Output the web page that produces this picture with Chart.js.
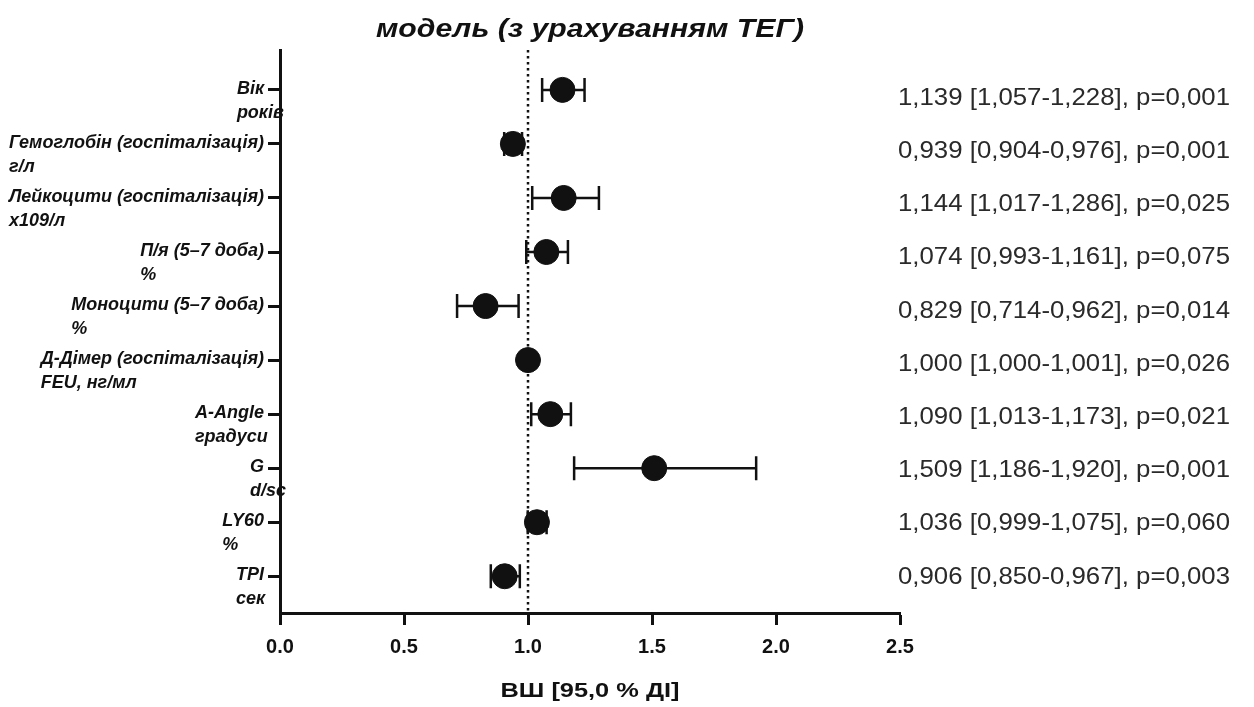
<!DOCTYPE html>
<html lang="uk">
<head>
<meta charset="UTF-8">
<title>модель (з урахуванням ТЕГ)</title>
<script src="https://cdn.jsdelivr.net/npm/chart.js@4/dist/chart.umd.min.js"></script>
<style>
  html, body { margin: 0; padding: 0; background: #fff; }
  #wrap { width: 1254px; height: 707px; position: relative; }
</style>
</head>
<body>
<div id="wrap"><canvas id="forest"></canvas></div>
<script>
// ── Data ─────────────────────────────────────────────────────────────────────
const labels = [
  ['Вік', 'років'],
  ['Гемоглобін (госпіталізація)', 'г/л'],
  ['Лейкоцити (госпіталізація)', 'x109/л'],
  ['П/я (5–7 доба)', '%'],
  ['Моноцити (5–7 доба)', '%'],
  ['Д-Дімер (госпіталізація)', 'FEU, нг/мл'],
  ['A-Angle', 'градуси'],
  ['G', 'd/sc'],
  ['LY60', '%'],
  ['TPI', 'сек'],
];
const oddsRatio = [1.139, 0.939, 1.144, 1.074, 0.829, 1.000, 1.090, 1.509, 1.036, 0.906];
const ciLow     = [1.057, 0.904, 1.017, 0.993, 0.714, 1.000, 1.013, 1.186, 0.999, 0.850];
const ciHigh    = [1.228, 0.976, 1.286, 1.161, 0.962, 1.001, 1.173, 1.920, 1.075, 0.967];
const pValues   = [0.001, 0.001, 0.025, 0.075, 0.014, 0.026, 0.021, 0.001, 0.060, 0.003];
const xTicks    = [0, 0.5, 1.0, 1.5, 2.0, 2.5];
const refValue  = 1.0;
const titleText  = 'модель (з урахуванням ТЕГ)';
const xTitleText = 'ВШ [95,0 % ДІ]';

const INK = '#111';
const SANS = "'Liberation Sans', Arial, sans-serif";

const fmt = (v) => v.toFixed(3).replace('.', ',');

// draw text squeezed / stretched to a given width
function fitText(ctx, txt, x, y, width, align) {
  const s = width / ctx.measureText(txt).width;
  ctx.save();
  ctx.translate(x, y);
  ctx.scale(s, 1);
  ctx.textAlign = align;
  ctx.fillText(txt, 0, 0);
  ctx.restore();
  return s;
}

// ── Custom drawing: reference line, error bars, labels, notes ───────────────
const forestPlugin = {
  id: 'forest',
  beforeDatasetsDraw(chart) {
    const { ctx, chartArea, scales: { x, y } } = chart;
    ctx.save();
    // dotted reference line at OR = 1
    const xr = x.getPixelForValue(refValue);
    ctx.strokeStyle = INK;
    ctx.lineWidth = 2.5;
    ctx.setLineDash([2.5, 3.5]);
    ctx.beginPath();
    ctx.moveTo(xr, chartArea.top);
    ctx.lineTo(xr, chartArea.bottom);
    ctx.stroke();
    ctx.setLineDash([]);
    // error bars with caps
    ctx.lineWidth = 2.5;
    oddsRatio.forEach((_, i) => {
      const yp = y.getPixelForValue(i + 1);
      const x0 = x.getPixelForValue(ciLow[i]);
      const x1 = x.getPixelForValue(ciHigh[i]);
      ctx.beginPath();
      ctx.moveTo(x0, yp); ctx.lineTo(x1, yp);
      ctx.moveTo(x0, yp - 12); ctx.lineTo(x0, yp + 12);
      ctx.moveTo(x1, yp - 12); ctx.lineTo(x1, yp + 12);
      ctx.stroke();
    });
    ctx.restore();
  },
  afterDraw(chart) {
    const { ctx, chartArea, scales: { y } } = chart;
    const cx = (chartArea.left + chartArea.right) / 2;
    ctx.save();
    ctx.fillStyle = INK;
    ctx.textBaseline = 'middle';

    // chart title
    ctx.font = `italic bold 25px ${SANS}`;
    fitText(ctx, titleText, cx, 30, 428, 'center');

    // x-axis title
    ctx.font = `bold 21px ${SANS}`;
    fitText(ctx, xTitleText, cx, 691, 179, 'center');

    // category labels: lines left-aligned, first line ending before the tick
    ctx.font = `italic bold 18px ${SANS}`;
    ctx.textAlign = 'left';
    const tickStart = y.right - 12;
    labels.forEach((lines, i) => {
      const yp = y.getPixelForValue(i + 1);
      const left = tickStart - 4 - ctx.measureText(lines[0]).width;
      lines.forEach((line, k) => ctx.fillText(line, left, yp - 1 + k * 24));
    });

    // right-hand OR [CI], p column
    ctx.font = `24px ${SANS}`;
    ctx.fillStyle = '#2a2a2a';
    const notes = oddsRatio.map((or, i) =>
      `${fmt(or)} [${fmt(ciLow[i])}-${fmt(ciHigh[i])}], p=${fmt(pValues[i])}`);
    const s = 332 / ctx.measureText(notes[0]).width;
    notes.forEach((txt, i) => {
      const yp = y.getPixelForValue(1.15 + i * 0.985);
      ctx.save();
      ctx.translate(898, yp);
      ctx.scale(s, 1);
      ctx.textAlign = 'left';
      ctx.fillText(txt, 0, 0);
      ctx.restore();
    });
    ctx.restore();
  },
};

// ── Chart ────────────────────────────────────────────────────────────────────
new Chart(document.getElementById('forest'), {
  type: 'scatter',
  data: {
    datasets: [{
      data: oddsRatio.map((v, i) => ({ x: v, y: i + 1 })),
      backgroundColor: INK,
      borderColor: INK,
      pointRadius: 12.5,
      pointHoverRadius: 12.5,
    }],
  },
  options: {
    responsive: true,
    maintainAspectRatio: false,
    animation: false,
    events: [],
    layout: { padding: { left: 268, right: 354, top: 50, bottom: 38 } },
    plugins: {
      legend: { display: false },
      tooltip: { enabled: false },
      title: { display: false },
    },
    scales: {
      x: {
        type: 'linear',
        min: 0,
        max: 2.5,
        afterBuildTicks: (s) => { s.ticks = xTicks.map((v) => ({ value: v })); },
        border: { display: true, color: INK, width: 3 },
        grid: { display: true, drawOnChartArea: false, drawTicks: true, tickLength: 12, tickWidth: 3, tickColor: INK },
        ticks: {
          color: INK,
          padding: 10,
          font: { family: SANS, size: 20, weight: 'bold' },
          callback: (v) => Number(v).toFixed(1),
        },
      },
      y: {
        type: 'linear',
        reverse: true,
        min: 0.262,
        max: 10.68,
        afterBuildTicks: (s) => { s.ticks = labels.map((_, i) => ({ value: i + 1 })); },
        border: { display: true, color: INK, width: 3 },
        grid: { display: true, drawOnChartArea: false, drawTicks: true, tickLength: 12, tickWidth: 3, tickColor: INK },
        ticks: { display: false },
      },
    },
  },
  plugins: [forestPlugin],
});
</script>
</body>
</html>
